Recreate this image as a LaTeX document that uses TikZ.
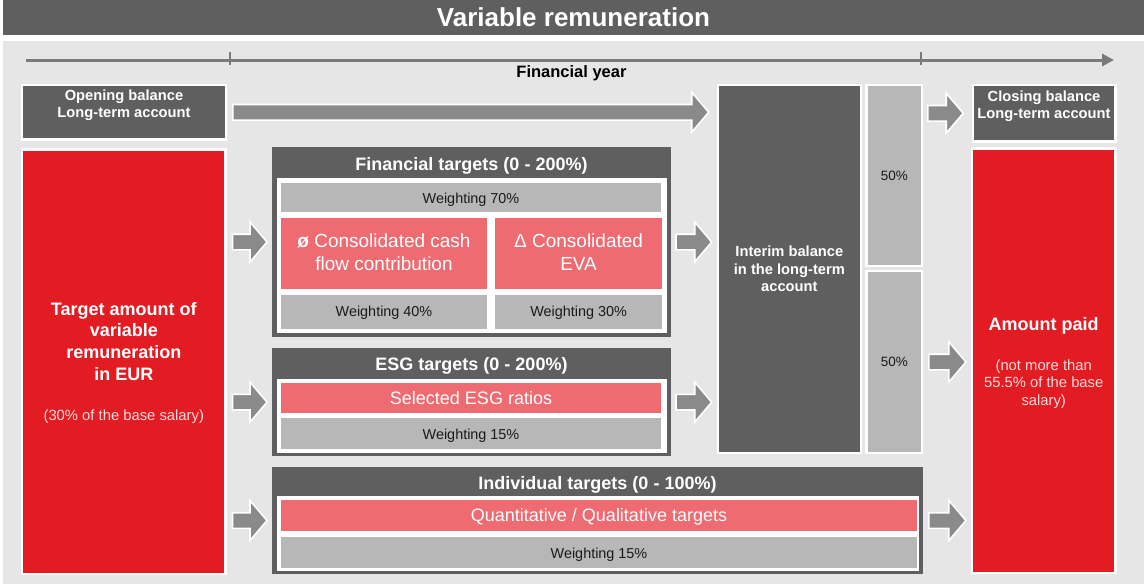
\documentclass[tikz,border=0pt]{standalone}
\usepackage{fontspec}
\setmainfont{Liberation Sans}
\usetikzlibrary{calc,arrows.meta}
\definecolor{dgray}{HTML}{5F5F5F}
\definecolor{bggray}{HTML}{E6E6E6}
\definecolor{agray}{HTML}{8A8A8A}
\definecolor{lgray}{HTML}{B7B7B7}
\definecolor{vred}{HTML}{E31B23}
\definecolor{vpink}{HTML}{EF6B72}
\definecolor{tline}{HTML}{7A7A7A}
\definecolor{subtxt}{HTML}{FADADB}
\definecolor{btxt}{HTML}{1A1A1A}
\newcommand\fs[1]{\fontsize{#1}{#1}\selectfont}
% box with white border, outer coordinates
\newcommand\rbox[6]{\node[#2, minimum width={#5-#3-2.4}, minimum height={#6-#4-2.4}] (#1) at ({(#3+#5)/2},{(#4+#6)/2}) {};}
% plain box, fill coordinates
\newcommand\pbox[6]{\node[#2, minimum width={#5-#3}, minimum height={#6-#4}] (#1) at ({(#3+#5)/2},{(#4+#6)/2}) {};}
% block arrow: start, end (y of start), gaps
\newcommand\barrow[4]{\filldraw[blockarrow] let \p1=(#1), \p2=(#2) in
  ({\x1+#3pt},{\y1+7.8pt}) -- ({\x2-#4pt-17pt},{\y1+7.8pt}) -- ({\x2-#4pt-17pt},{\y1+20pt}) -- ({\x2-#4pt},{\y1}) -- ({\x2-#4pt-17pt},{\y1-20pt}) -- ({\x2-#4pt-17pt},{\y1-7.8pt}) -- ({\x1+#3pt},{\y1-7.8pt}) -- cycle;}
\tikzset{
  wbox/.style={rectangle, inner sep=0pt, outer sep=0pt, draw=white, line width=2.4pt},
  plain/.style={rectangle, inner sep=0pt, outer sep=0pt, draw=none},
  blockarrow/.style={fill=agray, draw=white, line width=1.6pt, line join=miter},
  txt/.style={inner sep=0pt, outer sep=0pt, anchor=base},
  ttl/.style={txt, font=\fs{26}\bfseries, text=white},
  fy/.style={txt, font=\fs{16.5}\bfseries, text=black},
  hd/.style={txt, font=\fs{18}\bfseries, text=white},
  acc/.style={txt, font=\fs{14.7}\bfseries, text=white},
  big/.style={txt, font=\fs{18}\bfseries, text=white},
  sub/.style={txt, font=\fs{14.8}, text=subtxt},
  wt/.style={txt, font=\fs{14.4}, text=btxt},
  pct/.style={txt, font=\fs{13.5}, text=btxt},
  pk/.style={txt, font=\fs{19}, text=white},
  pks/.style={txt, font=\fs{18}, text=white},
}
\begin{document}
\begin{tikzpicture}[x=1pt,y=-1pt]
\useasboundingbox (0,0) rectangle (1144,584);
% background and title
\fill[white] (0,0) rectangle (1144,584);
\pbox{titlebar}{plain, fill=dgray}{3}{0}{1144}{35}
\pbox{bg}{plain, fill=bggray}{3}{41}{1144}{584}
\node[ttl] (title) at (573.5,26) {Variable remuneration};
% timeline
\coordinate (tl0) at (26,60);
\coordinate (tl1) at (1114,60);
\coordinate (tka) at (230,52);
\coordinate (tkab) at (230,65);
\coordinate (tkb) at (921,52);
\coordinate (tkbb) at (921,65);
\draw[tline, line width=3pt, -{Triangle[length=12pt,width=12pt]}] (tl0) -- (tl1);
\draw[tline, line width=1.5pt] (tka) -- (tkab);
\draw[tline, line width=1.5pt] (tkb) -- (tkbb);
\node[fy] (fyear) at (571.5,77) {Financial year};
% opening / closing
\rbox{open}{wbox, fill=dgray}{21}{84}{227}{140.5}
\node[acc] (open1) at (124,100.7) {Opening balance};
\node[acc] (open2) at (124,117.7) {Long-term account};
\rbox{close}{wbox, fill=dgray}{972}{84}{1116.7}{142.5}
\node[acc] (close1) at (1044,101) {Closing balance};
\node[acc] (close2) at (1044,118) {Long-term account};
% target amount
\rbox{target}{wbox, fill=vred}{21}{148.3}{226.7}{575}
\node[big] (tg1) at (123.8,315) {Target amount of};
\node[big] (tg2) at (123.8,336.7) {variable};
\node[big] (tg3) at (123.8,358.3) {remuneration};
\node[big] (tg4) at (123.8,380) {in EUR};
\node[sub] (tg5) at (123.8,420) {(30\% of the base salary)};
% financial targets
\pbox{fin}{plain, fill=dgray}{272}{147}{671}{337}
\pbox{fininner}{plain, fill=white}{277}{178}{667}{333}
\node[hd] (finh) at (471.5,170) {Financial targets (0 - 200\%)};
\pbox{w70}{plain, fill=lgray}{281}{183}{661}{211.5}
\node[wt] (w70t) at (471,203.3) {Weighting 70\%};
\pbox{cash}{plain, fill=vpink}{281}{218}{487.3}{289}
\node[pk] (cash1) at (384,247.3) {{\bfseries ø} Consolidated cash};
\node[pk] (cash2) at (384,270.7) {flow contribution};
\pbox{eva}{plain, fill=vpink}{495}{218}{662.3}{289}
\node[pk] (eva1) at (578.6,247.3) {Δ Consolidated};
\node[pk] (eva2) at (578.6,270.7) {EVA};
\pbox{w40}{plain, fill=lgray}{281}{294.5}{487.3}{328.5}
\node[wt] (w40t) at (384,316.7) {Weighting 40\%};
\pbox{w30}{plain, fill=lgray}{495}{294.5}{662.3}{328.5}
\node[wt] (w30t) at (578.6,316.7) {Weighting 30\%};
% ESG targets
\pbox{esg}{plain, fill=dgray}{272}{348.3}{671}{456}
\pbox{esginner}{plain, fill=white}{276.5}{379.3}{667}{452.5}
\node[hd] (esgh) at (471.5,370.7) {ESG targets (0 - 200\%)};
\pbox{esgr}{plain, fill=vpink}{281}{382.5}{661}{412.7}
\node[pks] (esgrt) at (471,404) {Selected ESG ratios};
\pbox{w15a}{plain, fill=lgray}{281}{417.7}{661}{449.3}
\node[wt] (w15at) at (471,439.3) {Weighting 15\%};
% individual targets
\pbox{ind}{plain, fill=dgray}{272}{467}{923}{574}
\pbox{indinner}{plain, fill=white}{276.5}{496}{919}{571}
\node[hd] (indh) at (597.5,489.3) {Individual targets (0 - 100\%)};
\pbox{quant}{plain, fill=vpink}{281}{500}{917}{530.7}
\node[pks] (quantt) at (599,521.7) {Quantitative / Qualitative targets};
\pbox{w15b}{plain, fill=lgray}{281}{537.3}{917}{567.7}
\node[wt] (w15bt) at (599,558.3) {Weighting 15\%};
% interim and 50% boxes
\rbox{interim}{wbox, fill=dgray}{716.5}{84}{862.3}{454}
\node[acc] (in1) at (789.4,256.7) {Interim balance};
\node[acc] (in2) at (789.4,274) {in the long-term};
\node[acc] (in3) at (789.4,291.7) {account};
\rbox{half1}{wbox, fill=lgray}{865.3}{84}{923.3}{267.3}
\node[pct] (half1t) at (894.3,180) {50\%};
\rbox{half2}{wbox, fill=lgray}{865.3}{270}{923.3}{454}
\node[pct] (half2t) at (894.3,366) {50\%};
% amount paid
\rbox{paid}{wbox, fill=vred}{970.7}{147.3}{1116.7}{574}
\node[big] (pd1) at (1043.7,330) {Amount paid};
\node[sub] (pd2) at (1043.7,370) {(not more than};
\node[sub] (pd3) at (1043.7,387.7) {55.5\% of the base};
\node[sub] (pd4) at (1043.7,405) {salary)};
% block arrows
\barrow{open.east}{interim.west}{7}{9}
\barrow{target.east |- fin.west}{fin.west}{7}{5}
\barrow{target.east |- esg.west}{esg.west}{7}{5}
\barrow{target.east |- ind.west}{ind.west}{7}{5}
\barrow{fin.east}{interim.west}{5}{6}
\barrow{esg.east}{interim.west}{5}{6}
\barrow{half1.east |- close.west}{close.west}{5.8}{10}
\barrow{half2.east}{paid.west}{6.8}{6}
\barrow{ind.east}{paid.west}{5.8}{6}
\end{tikzpicture}
\end{document}
